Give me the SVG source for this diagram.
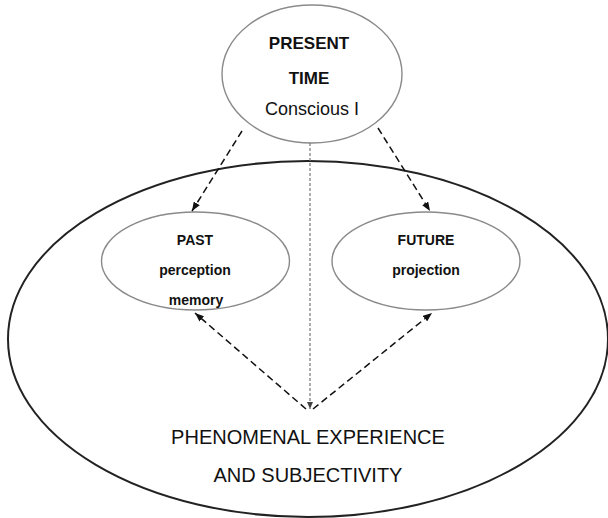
<svg xmlns="http://www.w3.org/2000/svg" width="608" height="518" viewBox="0 0 608 518">
<defs>
<marker id="ah" viewBox="0 0 9 7" refX="9" refY="3.5" markerWidth="9" markerHeight="7" markerUnits="userSpaceOnUse" orient="auto">
<path d="M0,0 L9,3.5 L0,7 z" fill="#111"/>
</marker>
<marker id="ahs" viewBox="0 0 7 6" refX="7" refY="3" markerWidth="7" markerHeight="6" markerUnits="userSpaceOnUse" orient="auto">
<path d="M0,0 L7,3 L0,6 z" fill="#444"/>
</marker>
<style>
.big{fill:none;stroke:#222;stroke-width:2}
.node{fill:#fff;stroke:#8a8a8a;stroke-width:1.4}
.t{font-family:"Liberation Sans",Arial,sans-serif;fill:#111;text-anchor:middle}
.b{font-weight:bold}
.dash{fill:none;stroke:#111;stroke-width:1.5;stroke-dasharray:7 4;marker-end:url(#ah)}
.dot{fill:none;stroke:#777;stroke-width:1.2;stroke-dasharray:3 2;marker-end:url(#ahs)}
</style>
</defs>
<rect width="608" height="518" fill="#fff"/>
<g id="experience">
<ellipse class="big" cx="308" cy="339" rx="300" ry="178"/>
<text class="t" x="308" y="444" font-size="20">PHENOMENAL EXPERIENCE</text>
<text class="t" x="308" y="482" font-size="20">AND SUBJECTIVITY</text>
</g>
<g id="present">
<ellipse class="node" cx="312" cy="74" rx="90" ry="69"/>
<text class="t b" x="309" y="49" font-size="17">PRESENT</text>
<text class="t b" x="309" y="84" font-size="17">TIME</text>
<text class="t" x="312" y="115" font-size="18">Conscious I</text>
</g>
<g id="past">
<ellipse class="node" cx="195.5" cy="261" rx="94" ry="49"/>
<text class="t b" x="195" y="245" font-size="14">PAST</text>
<text class="t b" x="195" y="275" font-size="14">perception</text>
<text class="t b" x="196" y="305" font-size="14">memory</text>
</g>
<g id="future">
<ellipse class="node" cx="426" cy="261" rx="94" ry="49"/>
<text class="t b" x="426" y="245" font-size="14">FUTURE</text>
<text class="t b" x="426" y="275" font-size="14">projection</text>
</g>
<g id="connectors">
<path class="dash" d="M242,131 L192,211"/>
<path class="dash" d="M378,128 L430,211"/>
<path class="dot" d="M310,143 L310,409"/>
<path class="dash" d="M306,409 L195,313"/>
<path class="dash" d="M313,409 L432,313"/>
</g>
</svg>
